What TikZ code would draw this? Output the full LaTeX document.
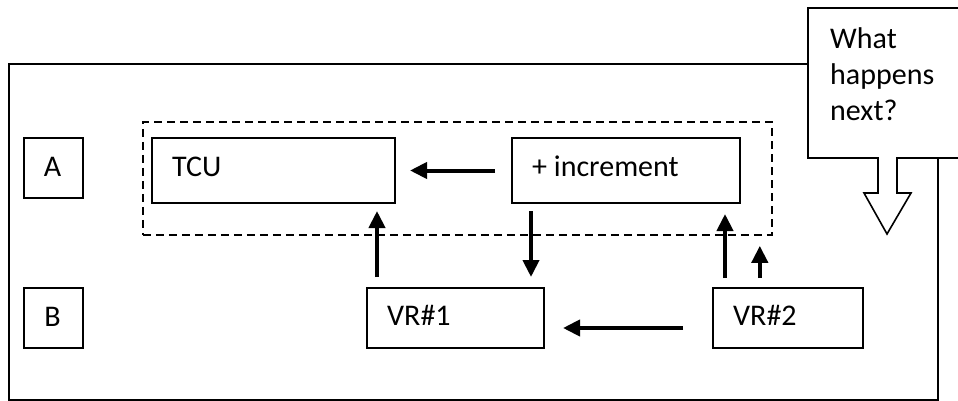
\documentclass[tikz,border=0pt]{standalone}
\usepackage{fontspec}
\setmainfont{Carlito}
\usetikzlibrary{arrows.meta,positioning}
\begin{document}
\begin{tikzpicture}[x=1pt,y=-1pt,
  every node/.style={font=\fontsize{30}{36}\selectfont},
  box/.style={draw,line width=2pt,rectangle,inner sep=0pt,anchor=north west},
  txt/.style={anchor=base west,inner sep=0pt},
  ctxt/.style={anchor=base,inner sep=0pt},
  grpbox/.style={draw,line width=1.8pt,dash pattern=on 8pt off 5pt,rectangle,inner sep=0pt,anchor=north west},
  arr/.style={line width=4pt,-{Triangle[length=17pt,width=16pt]}},
  frame/.style={line width=2pt},
  callout/.style={line width=1.6pt,fill=white,line join=miter}]
\useasboundingbox (0,0) rectangle (958,401);

% outer frame (open where the callout sits)
\coordinate (ftop) at (808,64);
\coordinate (fright) at (938,158);
\draw[frame] (ftop) -- (9,64) -- (9,399.5) -- (938,399.5) -- (fright);

% dashed group around TCU and increment
\node[grpbox,minimum width=629pt,minimum height=113pt] (grp) at (142,121) {};

% row labels
\node[box,minimum width=59pt,minimum height=60pt] (a) at (23,137) {};
\node[ctxt] (alab) at (52.5,176) {A};
\node[box,minimum width=59pt,minimum height=60pt] (b) at (23,287) {};
\node[ctxt] (blab) at (52.5,326) {B};

% boxes of row A
\node[box,minimum width=243pt,minimum height=65pt] (tcu) at (151,137) {};
\node[txt] (tcutext) at (172,176) {TCU};
\node[box,minimum width=228pt,minimum height=65pt] (inc) at (511,137) {};
\node[txt] (inctext) at (532,176) {+ increment};

% boxes of row B
\node[box,minimum width=177pt,minimum height=60pt] (vr1) at (366,287) {};
\node[txt] (vr1text) at (387,325) {VR\#1};
\node[box,minimum width=150pt,minimum height=60pt] (vr2) at (712,287) {};
\node[txt] (vr2text) at (733,325) {VR\#2};

% connectors
\draw[arr,shorten <=16pt,shorten >=14pt] (inc.west) -- (tcu.east);
\draw[arr,shorten <=10pt,shorten >=7pt]
  ([xshift=-19pt]tcu.south east |- vr1.north) -- ([xshift=-19pt]tcu.south east);
\draw[arr,shorten <=7pt,shorten >=10pt]
  ([xshift=20pt]inc.south west) -- ([xshift=20pt]inc.south west |- vr1.north);
\draw[arr,shorten <=9pt,shorten >=10pt]
  ([xshift=-16pt]inc.south east |- vr2.north) -- ([xshift=-16pt]inc.south east);
\draw[arr,shorten <=9pt,shorten >=10pt]
  ([xshift=-13pt]grp.south east |- vr2.north) -- ([xshift=-13pt]grp.south east);
\draw[arr,shorten <=29pt,shorten >=18pt]
  ([yshift=-10pt]vr2.west) -- ([yshift=-10pt]vr2.west -| vr1.east);

% callout with a downward arrow
\draw[callout] (975,8) -- (808,8) -- (808,158) -- (878,158) -- (878,193)
  -- (864,193) -- (887,234) -- (911,193) -- (897,193) -- (897,158) -- (975,158);
\node[anchor=north west,inner sep=0pt,align=left] (note) at (830,27)
  {What\\happens\\next?};
\end{tikzpicture}
\end{document}
